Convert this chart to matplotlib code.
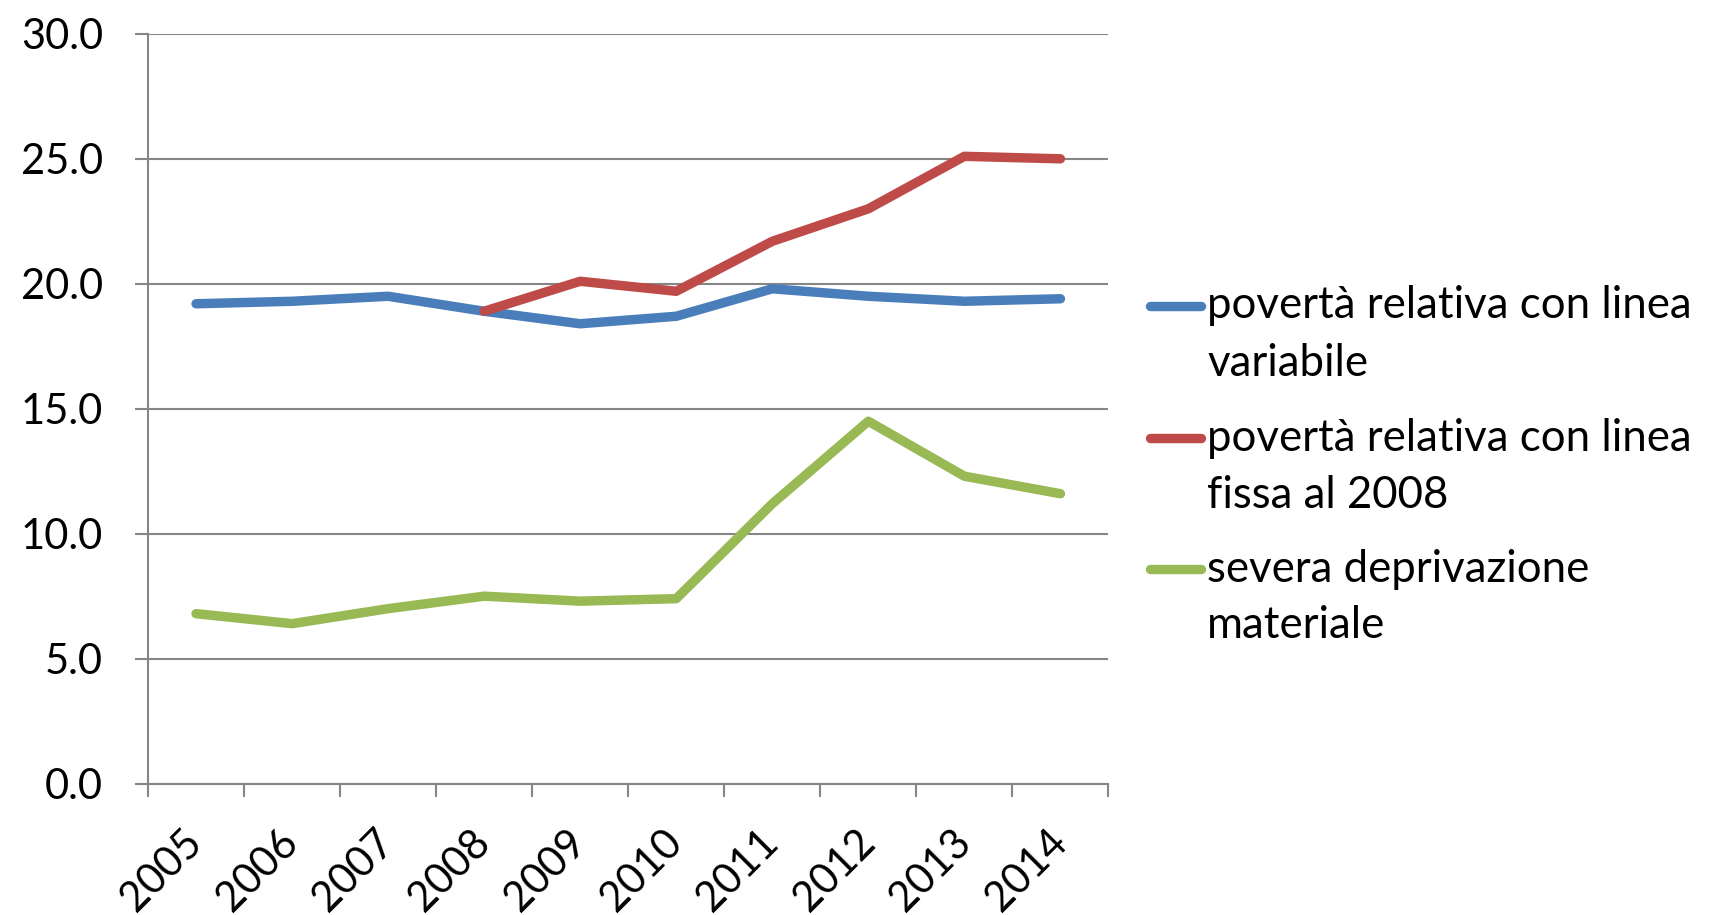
import numpy as np
import matplotlib.pyplot as plt
from matplotlib.lines import Line2D

plt.rcParams['font.family'] = ['Lato', 'DejaVu Sans']

years = ['2005', '2006', '2007', '2008', '2009', '2010', '2011', '2012', '2013', '2014']
linea_variabile = [19.2, 19.3, 19.5, 18.9, 18.4, 18.7, 19.8, 19.5, 19.3, 19.4]
linea_fissa = [np.nan, np.nan, np.nan, 18.9, 20.1, 19.7, 21.7, 23.0, 25.1, 25.0]
deprivazione = [6.8, 6.4, 7.0, 7.5, 7.3, 7.4, 11.2, 14.5, 12.3, 11.6]

labels = ['povertà relativa con linea\nvariabile',
          'povertà relativa con linea\nfissa al 2008',
          'severa deprivazione\nmateriale']
colors = ['#4A7EBB', '#BE4B48', '#98B954']
grey = '#868686'

fig = plt.figure(figsize=(17.09, 9.15), dpi=100)
ax = fig.add_axes([0.0866, 0.1436, 0.562, 0.8194])

x = np.arange(len(years))
for serie, c in zip([linea_variabile, linea_fissa, deprivazione], colors):
    ax.plot(x, serie, color=c, lw=6.8, solid_capstyle='round', zorder=3)

ax.set_xlim(-0.5, len(years) - 0.5)
ax.set_ylim(0, 30)
ax.set_yticks(np.arange(0, 31, 5))
ax.set_yticklabels([f'{v:.1f}' for v in np.arange(0, 31, 5)])
ax.yaxis.grid(True, color=grey, lw=1.5)
ax.set_axisbelow(True)

ax.set_xticks(x)
ax.set_xticklabels(years, rotation=45, ha='right', va='center', rotation_mode='anchor')
ax.set_xticks(np.arange(-0.5, len(years)), minor=True)
ax.tick_params(axis='x', which='major', length=0, pad=38, labelsize=30)
ax.tick_params(axis='x', which='minor', length=9.5, width=1.5, color=grey)
ax.tick_params(axis='y', length=9.5, width=1.5, color=grey, pad=23, labelsize=30)

for s in ['top', 'right']:
    ax.spines[s].set_visible(False)
for s in ['left', 'bottom']:
    ax.spines[s].set_color(grey)
    ax.spines[s].set_linewidth(1.5)

# legend on the right, handle lined up with the first text row
W, H = 1709, 915
rows_y = [306, 438, 569]
for lab, c, yy in zip(labels, colors, rows_y):
    yf = 1 - yy / H
    fig.add_artist(Line2D([1150 / W, 1201 / W], [yf, yf], color=c, lw=6.8,
                          solid_capstyle='round', transform=fig.transFigure))
    first, second = lab.split('\n')
    fig.text(1207 / W, yf, first, fontsize=31.5, va='center', ha='left')
    fig.text(1207 / W, 1 - (yy + 57) / H, second, fontsize=31.5, va='center', ha='left')

fig.savefig('out.png', dpi=100)
